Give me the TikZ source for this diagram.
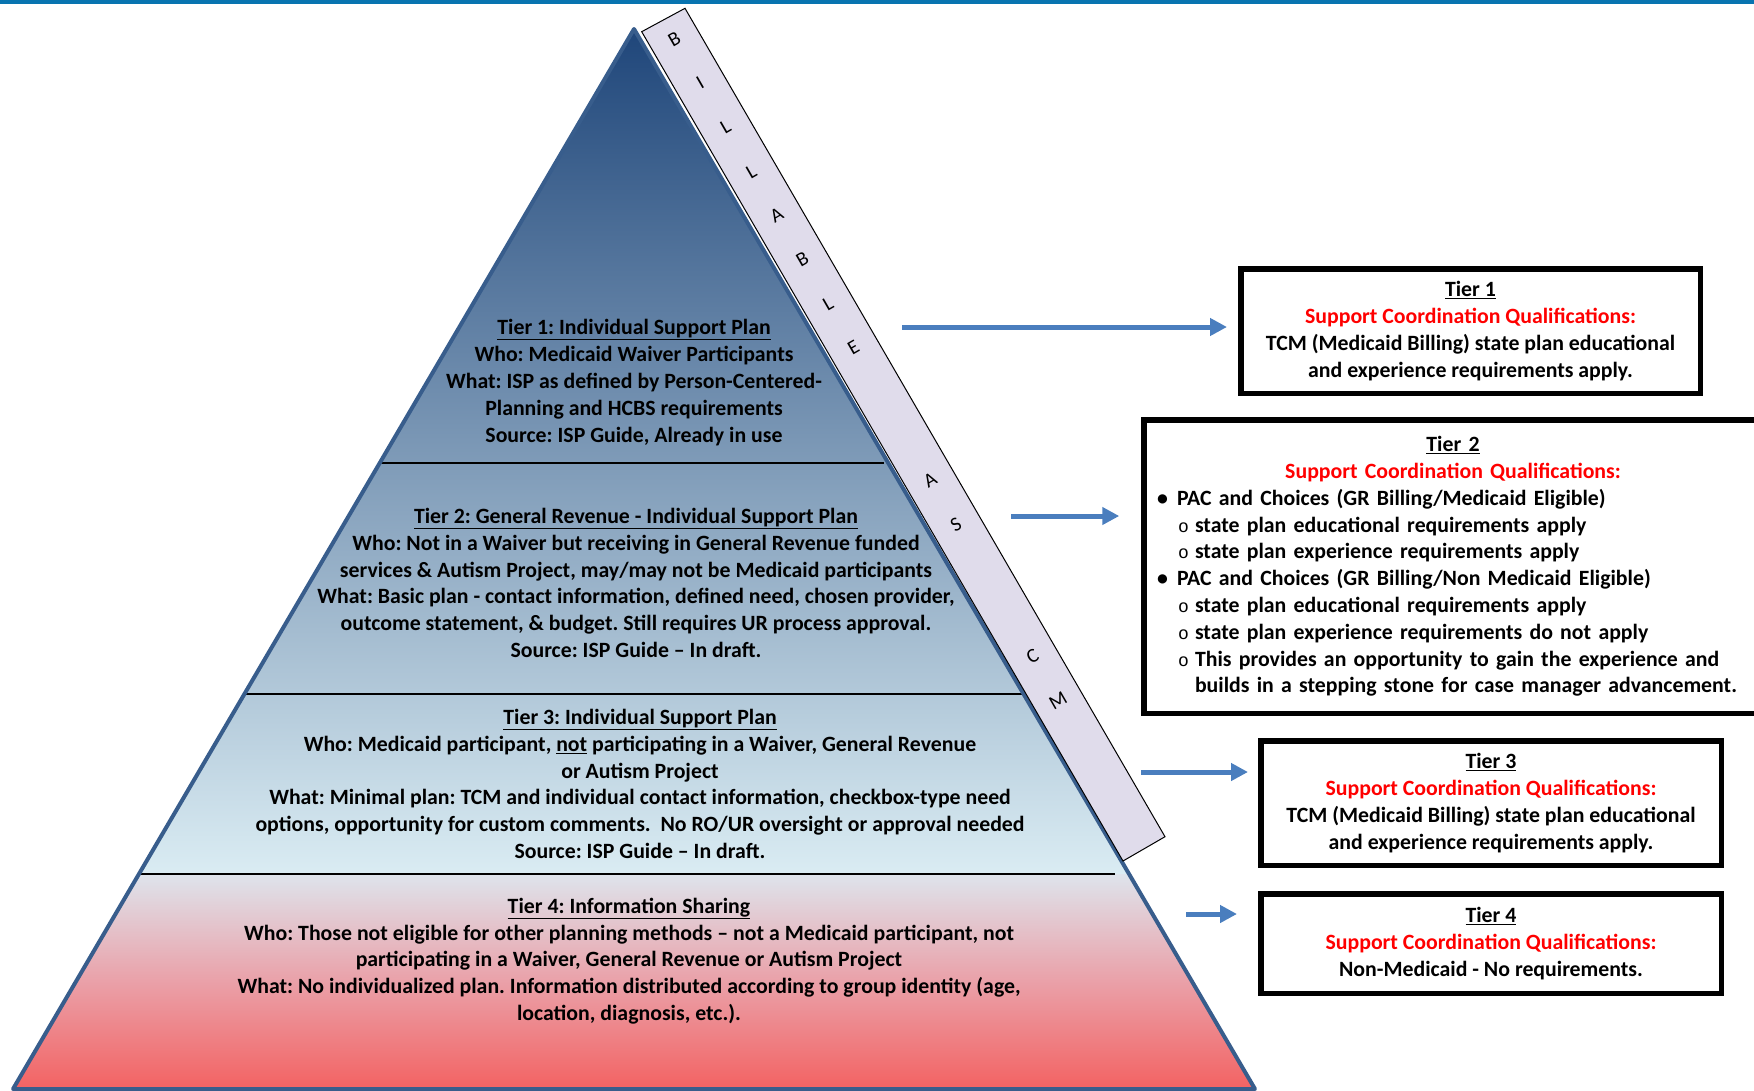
\documentclass[tikz,border=0pt]{standalone}
\usepackage{fontspec}
\setmainfont{Carlito}
\newfontfamily\ringfont{Liberation Mono}
\usepackage{xcolor}
\usepackage{tikz}
\usetikzlibrary{arrows.meta}
\frenchspacing

\definecolor{topbar}{RGB}{8,116,176}
\definecolor{pyrtop}{RGB}{31,70,122}
\definecolor{pyrlight}{RGB}{218,236,243}
\definecolor{pyrpale}{RGB}{222,228,236}
\definecolor{pyrpink}{RGB}{234,160,168}
\definecolor{pyrred}{RGB}{243,98,98}
\definecolor{pyredge}{RGB}{56,93,140}
\definecolor{bannerfill}{RGB}{224,220,235}
\definecolor{arrowblue}{RGB}{74,126,190}
\definecolor{qualred}{RGB}{255,0,0}

\begin{document}
\begin{tikzpicture}[x=1pt,y=1pt]
\tikzstyle{every node}+=[inner sep=0pt]
\tikzstyle{tiertext}=[align=center, font=\bfseries\fontsize{21.8}{26.8}\selectfont]
\tikzstyle{qualbox}=[draw=black, line width=5.5pt, align=center, font=\bfseries\fontsize{21.8}{26.8}\selectfont]
\tikzstyle{tierarrow}=[draw=arrowblue, line width=5pt, -{Triangle[length=17pt,width=17pt]}]
\tikzstyle{letter}=[font=\fontsize{20}{20}\selectfont, rotate=30]
\newcommand{\ring}{\makebox[17pt][l]{\mdseries\ringfont\fontsize{18}{18}\selectfont o}}
\useasboundingbox (0,0) rectangle (1754,-1090);
\fill [topbar] (0,0) rectangle (1754,-4);
% pyramid
\begin{scope}
\clip (634,-29) -- (1255,-1089) -- (13,-1089) -- cycle;
\shade [top color=pyrtop, bottom color=pyrlight] (0,-29) rectangle (1754,-874);
\shade [top color=pyrpale, bottom color=pyrred, middle color=pyrpink] (0,-874) rectangle (1754,-1090);
\end{scope}
\draw [black, line width=1.5pt] (380,-463) -- (884,-463);
\draw [black, line width=1.5pt] (244,-694) -- (1022,-694);
\draw [black, line width=1.5pt] (140,-874) -- (1115,-874);
\draw [pyredge, line width=4pt, line join=round] (634,-29) -- (1255,-1089) -- (13,-1089) -- cycle;
% billable banner
\draw [black, fill=bannerfill, line width=1pt] (641.7,-31.7) -- (685,-8.3) -- (1165,-836.7) -- (1123,-861) -- cycle;
\foreach \ch/\k in {B/0,I/1,L/2,L/3,A/4,B/5,L/6,E/7,A/10,S/11,C/14,M/15}
  \node [letter] (ban\k) at ({663.4+0.5016*(22+51*\k)},{-20-0.8651*(22+51*\k)}) {\ch};
% tiers
\node [tiertext] (tier1) at (634,-382.5) {\underline{Tier 1: Individual Support Plan}\\
  Who: Medicaid Waiver Participants\\
  What: ISP as defined by Person-Centered-\\
  Planning and HCBS requirements\\
  Source: ISP Guide, Already in use};
\node [tiertext] (tier2) at (636,-583) {\underline{Tier 2: General Revenue - Individual Support Plan}\\
  Who: Not in a Waiver but receiving in General Revenue funded\\
  services \& Autism Project, may/may not be Medicaid participants\\
  What: Basic plan - contact information, defined need, chosen provider,\\
  outcome statement, \& budget. Still requires UR process approval.\\
  Source: ISP Guide – In draft.};
\node [tiertext] (tier3) at (640,-784) {\underline{Tier 3: Individual Support Plan}\\
  Who: Medicaid participant, \underline{not} participating in a Waiver, General Revenue\\
  or Autism Project\\
  What: Minimal plan: TCM and individual contact information, checkbox-type need\\
  options, opportunity for custom comments.\ \ No RO/UR oversight or approval needed\\
  Source: ISP Guide – In draft.};
\node [tiertext] (tier4) at (629,-961) {\underline{Tier 4: Information Sharing}\\
  Who: Those not eligible for other planning methods – not a Medicaid participant, not\\
  participating in a Waiver, General Revenue or Autism Project\\
  What: No individualized plan. Information distributed according to group identity (age,\\
  location, diagnosis, etc.).};
% qualification boxes
\node [qualbox, minimum width=459.5pt, minimum height=124.5pt] (qual1) at (1470.5,-331) {\underline{Tier 1}\\
  \textcolor{qualred}{Support Coordination Qualifications:}\\
  TCM (Medicaid Billing) state plan educational\\
  and experience requirements apply.};
\node [qualbox, align=left, text width=592pt, inner xsep=13pt, minimum height=293.5pt] (qual2) at (1453,-566.5) {%
  {\centering\underline{Tier 2}\\ \textcolor{qualred}{Support Coordination Qualifications:}\par}
  \makebox[20pt][l]{•}PAC and Choices (GR Billing/Medicaid Eligible)\\
  \hspace*{21pt}\ring state plan educational requirements apply\\
  \hspace*{21pt}\ring state plan experience requirements apply\\
  \makebox[20pt][l]{•}PAC and Choices (GR Billing/Non Medicaid Eligible)\\
  \hspace*{21pt}\ring state plan educational requirements apply\\
  \hspace*{21pt}\ring state plan experience requirements do not apply\\
  \hspace*{21pt}\ring This provides an opportunity to gain the experience and\\
  \hspace*{38pt}builds in a stepping stone for case manager advancement.};
\node [qualbox, minimum width=460.5pt, minimum height=124.5pt] (qual3) at (1491,-803) {\underline{Tier 3}\\
  \textcolor{qualred}{Support Coordination Qualifications:}\\
  TCM (Medicaid Billing) state plan educational\\
  and experience requirements apply.};
\node [qualbox, minimum width=460.5pt, minimum height=99.5pt] (qual4) at (1491,-943.5) {\underline{Tier 4}\\
  \textcolor{qualred}{Support Coordination Qualifications:}\\
  Non-Medicaid - No requirements.};
% arrows
\coordinate (arr1) at (902,-327);
\coordinate (arr2) at (1011,-516);
\coordinate (arr3) at (1141,-772);
\coordinate (arr4) at (1186,-914);
\draw [tierarrow, shorten >=11pt] (arr1) -- (arr1 -| qual1.west);
\draw [tierarrow, shorten >=22pt] (arr2) -- (arr2 -| qual2.west);
\draw [tierarrow, shorten >=10pt] (arr3) -- (arr3 -| qual3.west);
\draw [tierarrow, shorten >=21pt] (arr4) -- (arr4 -| qual4.west);
\end{tikzpicture}
\end{document}
